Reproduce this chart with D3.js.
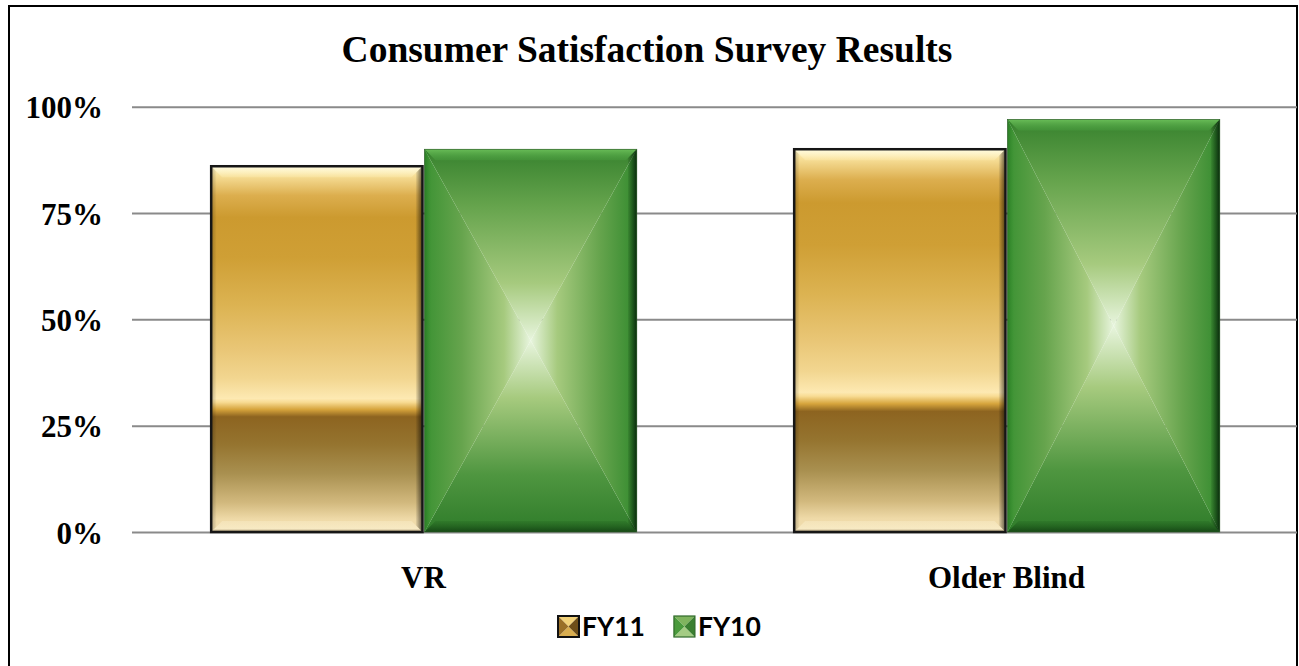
<!DOCTYPE html>
<html>
<head>
<meta charset="utf-8">
<script src="https://cdn.jsdelivr.net/npm/d3@7"></script>
<style>
  html, body { margin: 0; padding: 0; background: #fff; }
  svg { display: block; }
</style>
</head>
<body>
<svg id="chart" width="1299" height="666"></svg>
<script>
// ---- data ----
const categories = ["VR", "Older Blind"];
const series = ["FY11", "FY10"];
const fy11 = [86, 90];
const fy10 = [90, 97];
const yTicks = [0, 25, 50, 75, 100];
const title = "Consumer Satisfaction Survey Results";

const seriesValues = { FY11: fy11, FY10: fy10 };

const svg = d3.select("#chart");
const defs = svg.append("defs");

// ---- gradients ----
function linGrad(id, x1, y1, x2, y2, stops) {
  const g = defs.append("linearGradient").attr("id", id)
    .attr("x1", x1).attr("y1", y1).attr("x2", x2).attr("y2", y2);
  stops.forEach(s => g.append("stop").attr("offset", s[0]).attr("stop-color", s[1]).attr("stop-opacity", s[2] == null ? 1 : s[2]));
}
linGrad("goldV", 0, 0, 0, 1, [
  [0, "#fff7cc"], [0.025, "#f7df98"], [0.08, "#dcae4e"], [0.14, "#cc9a2f"],
  [0.25, "#cf9f35"], [0.38, "#dcb352"], [0.5, "#e9c676"], [0.58, "#f2d690"],
  [0.635, "#fde9b2"], [0.645, "#f8dc94"], [0.665, "#d6a43c"], [0.685, "#8d6420"],
  [0.76, "#95742f"], [0.84, "#a99050"], [0.92, "#d2b97e"], [0.965, "#efdaa8"], [1, "#f0deb0"]
]);
// green pyramid triangles
const gMid1 = "#66a44d", gMid2 = "#a6ca7e", gCenter = "#e8f5de";
linGrad("gTop", 0, 0, 0, 1, [[0, "#37822e"], [0.3, gMid1], [0.7, gMid2], [1, gCenter]]);
linGrad("gBot", 0, 1, 0, 0, [[0, "#2f7c2a"], [0.3, "#4f9640"], [0.7, gMid2], [1, gCenter]]);
linGrad("gLeft", 0, 0, 1, 0, [[0, "#3c9233"], [0.35, gMid1], [0.75, gMid2], [1, gCenter]]);
linGrad("gRight", 1, 0, 0, 0, [[0, "#338a2e"], [0.35, gMid1], [0.75, gMid2], [1, gCenter]]);
// bevels
linGrad("bevTopGold", 0, 0, 0, 1, [[0, "#fffbe0", 0.95], [1, "#fff3c0", 0.25]]);
linGrad("bevRightDark", 0, 0, 1, 0, [[0, "#000", 0.05], [1, "#000", 0.6]]);
linGrad("bevLeftDark", 1, 0, 0, 0, [[0, "#000", 0.0], [1, "#000", 0.25]]);
linGrad("bevBotGold", 0, 0, 0, 1, [[0, "#fff6d8", 0.3], [0.7, "#fff6d8", 0.5], [1, "#5a4a2a", 0.6]]);
linGrad("bevTopGreen", 0, 0, 0, 1, [[0, "#6cc05a", 0.95], [1, "#4aa040", 0.4]]);
linGrad("bevRightGreen", 0, 0, 1, 0, [[0, "#0a300a", 0.1], [1, "#06200a", 0.9]]);
linGrad("bevBotGreen", 0, 0, 0, 1, [[0, "#1c5a1a", 0.2], [1, "#103a10", 0.8]]);
linGrad("bevLeftGreen", 1, 0, 0, 0, [[0, "#2a8a25", 0.0], [1, "#1f6e1c", 0.6]]);

// ---- layout ----
const plotLeft = 132, plotRight = 1298, plotTop = 106.7, plotBottom = 532;

const y = d3.scaleLinear().domain([0, 100]).range([plotBottom, plotTop]);
const x0 = d3.scaleBand().domain(categories).range([plotLeft, plotRight]).padding(0);
const gapRatio = 0.733;
const bw = x0.bandwidth() / (2 + gapRatio);
const x1 = d3.scaleBand().domain(series)
  .range([bw * gapRatio / 2, bw * gapRatio / 2 + 2 * bw]).padding(0);

// outer border
svg.append("rect").attr("x", 9).attr("y", 6).attr("width", 1288).attr("height", 700)
  .attr("fill", "none").attr("stroke", "#000").attr("stroke-width", 2);

// title
svg.append("text").attr("x", 647).attr("y", 62).attr("text-anchor", "middle")
  .style("font-family", "'Liberation Serif', 'Times New Roman', serif")
  .style("font-weight", "bold").style("font-size", "37.5px").attr("fill", "#000")
  .text(title);

// y axis + gridlines
const yAxis = svg.append("g").attr("transform", `translate(${plotLeft},0)`)
  .call(d3.axisLeft(y).tickValues(yTicks).tickFormat(d => d + "%")
    .tickSize(-(1297 - plotLeft)).tickPadding(29));
yAxis.select(".domain").remove();
yAxis.selectAll(".tick line").attr("stroke", "#8a8a8a").attr("stroke-width", 2);
yAxis.selectAll(".tick text")
  .style("font-family", "'Liberation Serif', 'Times New Roman', serif")
  .style("font-weight", "bold").style("font-size", "31px").attr("fill", "#000")
  .attr("dy", "0.36em");

// x axis labels
const xAxis = svg.append("g").attr("transform", `translate(0,${plotBottom})`)
  .call(d3.axisBottom(x0).tickSize(0).tickPadding(34));
xAxis.select(".domain").remove();
xAxis.selectAll(".tick text")
  .style("font-family", "'Liberation Serif', 'Times New Roman', serif")
  .style("font-weight", "bold").style("font-size", "31px").attr("fill", "#000");

// ---- bar drawing helpers ----
function poly(g, pts, fill) {
  g.append("path").attr("d", "M" + pts.map(p => p.join(",")).join("L") + "Z").attr("fill", fill);
}
function drawGold(g, x, yy, w, h, bev, outline) {
  g.append("rect").attr("x", x).attr("y", yy).attr("width", w).attr("height", h).attr("fill", "url(#goldV)");
  const r = x + w, b = yy + h;
  poly(g, [[x, yy], [r, yy], [r - bev, yy + bev], [x + bev, yy + bev]], "url(#bevTopGold)");
  poly(g, [[r, yy], [r, b], [r - bev * 0.6, b - bev * 0.6], [r - bev * 0.6, yy + bev * 0.6]], "url(#bevRightDark)");
  poly(g, [[x, yy], [x, b], [x + bev * 0.5, b - bev * 0.5], [x + bev * 0.5, yy + bev * 0.5]], "url(#bevLeftDark)");
  poly(g, [[x, b], [r, b], [r - bev, b - bev], [x + bev, b - bev]], "url(#bevBotGold)");
  if (outline) {
    g.append("rect").attr("x", x).attr("y", yy).attr("width", w).attr("height", h)
      .attr("fill", "none").attr("stroke", "#161616").attr("stroke-width", outline);
  }
}
function drawGreen(g, x, yy, w, h, bev, outline) {
  const r = x + w, b = yy + h, cx = x + w / 2, cy = yy + h / 2;
  poly(g, [[x, yy], [r, yy], [cx, cy]], "url(#gTop)");
  poly(g, [[x, b], [r, b], [cx, cy]], "url(#gBot)");
  poly(g, [[x, yy], [x, b], [cx, cy]], "url(#gLeft)");
  poly(g, [[r, yy], [r, b], [cx, cy]], "url(#gRight)");
  poly(g, [[x, yy], [r, yy], [r - bev, yy + bev], [x + bev, yy + bev]], "url(#bevTopGreen)");
  poly(g, [[x, yy], [x, b], [x + bev * 0.6, b - bev * 0.6], [x + bev * 0.6, yy + bev * 0.6]], "url(#bevLeftGreen)");
  poly(g, [[r, yy], [r, b], [r - bev * 0.8, b - bev * 0.8], [r - bev * 0.8, yy + bev * 0.8]], "url(#bevRightGreen)");
  poly(g, [[x, b], [r, b], [r - bev, b - bev], [x + bev, b - bev]], "url(#bevBotGreen)");
  if (outline) {
    g.append("rect").attr("x", x).attr("y", yy).attr("width", w).attr("height", h)
      .attr("fill", "none").attr("stroke", "#2d5a28").attr("stroke-width", outline);
  }
}

// ---- bars ----
const groups = svg.append("g").selectAll("g").data(categories).join("g")
  .attr("transform", d => `translate(${x0(d)},0)`);
groups.each(function (cat, i) {
  const g = d3.select(this);
  series.forEach(s => {
    const v = seriesValues[s][i];
    const bx = x1(s), by = y(v), bh = y(0) - y(v), bwid = x1.bandwidth();
    const bg = g.append("g");
    if (s === "FY11") drawGold(bg, bx + 1, by, bwid - 2, bh, 11, 2.5);
    else drawGreen(bg, bx + 1, by, bwid - 1, bh, 11, 0.6);
  });
});

// ---- legend ----
const legend = svg.append("g");
const legendFont = "'Lato', 'Open Sans', sans-serif";
let lx = 558;
series.forEach((s, i) => {
  const it = legend.append("g");
  const sq = it.append("g");
  const sx = lx, sy = 616, ss = 21;
  const cx = sx + ss / 2, cy = sy + ss / 2;
  if (s === "FY11") {
    poly(sq, [[sx, sy], [sx + ss, sy], [cx, cy]], "#f2d27a");
    poly(sq, [[sx, sy + ss], [sx + ss, sy + ss], [cx, cy]], "#d9ae50");
    poly(sq, [[sx, sy], [sx, sy + ss], [cx, cy]], "#9a7028");
    poly(sq, [[sx + ss, sy], [sx + ss, sy + ss], [cx, cy]], "#6e4e18");
    sq.append("rect").attr("x", sx).attr("y", sy).attr("width", ss).attr("height", ss)
      .attr("fill", "none").attr("stroke", "#111").attr("stroke-width", 2);
  } else {
    poly(sq, [[sx, sy], [sx + ss, sy], [cx, cy]], "#7fb45e");
    poly(sq, [[sx, sy + ss], [sx + ss, sy + ss], [cx, cy]], "#a4cc84");
    poly(sq, [[sx, sy], [sx, sy + ss], [cx, cy]], "#4a9a3c");
    poly(sq, [[sx + ss, sy], [sx + ss, sy + ss], [cx, cy]], "#3a7f30");
    sq.append("rect").attr("x", sx).attr("y", sy).attr("width", ss).attr("height", ss)
      .attr("fill", "none").attr("stroke", "#2f6a2a").attr("stroke-width", 1.2);
  }
  const t = it.append("text").attr("x", sx + ss + 3).attr("y", 636)
    .style("font-family", legendFont).style("font-weight", "bold").style("font-size", "26.5px")
    .attr("fill", "#000").text(s);
  const tw = t.node().getComputedTextLength();
  lx = sx + ss + 3 + tw + 29;
});
</script>
</body>
</html>
